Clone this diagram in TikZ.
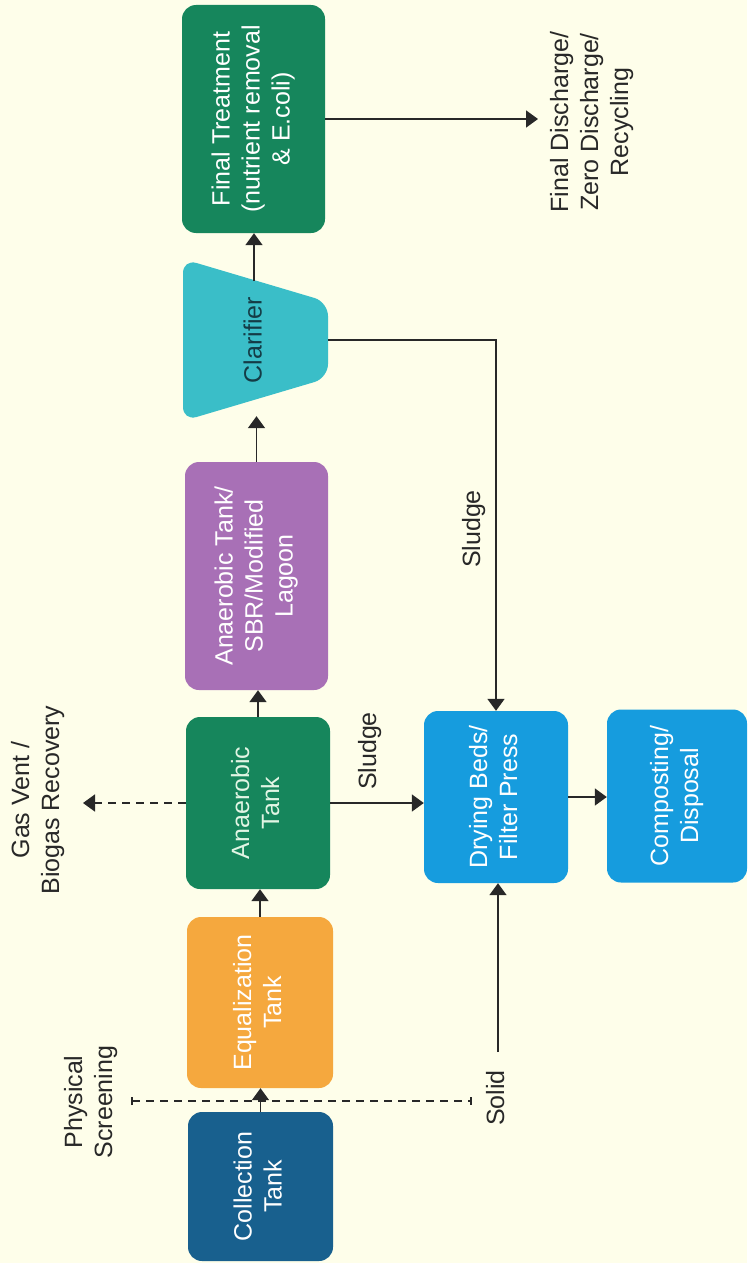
\documentclass[tikz,border=0pt]{standalone}
\usepackage{fontspec}
\setmainfont{Liberation Sans}
\usetikzlibrary{arrows.meta,calc}
\definecolor{bg}{RGB}{254,254,234}
\definecolor{cblue}{RGB}{24,96,142}
\definecolor{corange}{RGB}{245,168,62}
\definecolor{cgreen}{RGB}{22,134,92}
\definecolor{cpurple}{RGB}{168,112,182}
\definecolor{cteal}{RGB}{58,190,200}
\definecolor{csky}{RGB}{22,156,222}
\definecolor{ink}{RGB}{40,40,40}
\definecolor{clartext}{RGB}{20,60,70}
\definecolor{lightgreen}{RGB}{225,245,228}
\newcommand{\rt}[1]{\rotatebox{90}{\begin{tabular}{@{}c@{}}#1\end{tabular}}}
\begin{document}
\begin{tikzpicture}[x=1pt,y=-1pt,
  font=\fontsize{25}{30}\selectfont,
  box/.style={rectangle, rounded corners=14pt, inner sep=0pt, text=white},
  conn/.style={draw=ink, line width=1.7pt},
  arr/.style={conn, -{Triangle[width=17pt,length=12pt]}},
  dashline/.style={dash pattern=on 8pt off 6pt},
  lbl/.style={text=ink, inner sep=0pt},
]
\fill[bg] (0,0) rectangle (747,1263);
\useasboundingbox (0,0) rectangle (747,1263);

% boxes
\node[box, fill=cblue, minimum width=145pt, minimum height=149pt] (col) at (260.5,1186.5) {\rt{Collection\\Tank}};
\node[box, fill=corange, minimum width=146pt, minimum height=171pt] (equ) at (260,1002.5) {\rt{Equalization\\Tank}};
\node[box, fill=cgreen, minimum width=144pt, minimum height=172pt, text=lightgreen] (ana) at (258,803) {\rt{Anaerobic\\Tank}};
\node[box, fill=cpurple, minimum width=143pt, minimum height=228pt] (sbr) at (256.5,576) {\rt{Anaerobic Tank/\\SBR/Modified\\Lagoon}};
\fill[cteal, rounded corners=14pt] (183,259) -- (328,302) -- (328,378) -- (183,421) -- cycle;
\node[inner sep=0pt, minimum width=145pt, minimum height=162pt, text=clartext] (clar) at (255.5,340) {\rt{Clarifier}};
\node[box, fill=cgreen, minimum width=143pt, minimum height=228pt] (fin) at (253.5,119) {\rt{Final Treatment\\(nutrient removal\\\& E.coli)}};
\node[box, fill=csky, minimum width=144pt, minimum height=172pt] (dry) at (496,797) {\rt{Drying Beds/\\Filter Press}};
\node[box, fill=csky, minimum width=140pt, minimum height=173pt] (com) at (677,796) {\rt{Composting/\\Disposal}};

% labels
\node[lbl] (ps) at (91,1102) {\rt{Physical\\Screening}};
\node[lbl] (gas) at (38,800) {\rt{Gas Vent /\\Biogas Recovery}};
\node[lbl] (sl1) at (370,751) {\rt{Sludge}};
\node[lbl] (sl2) at (474,529) {\rt{Sludge}};
\node[lbl] (sol) at (498,1098) {\rt{Solid}};
\node[lbl] (out) at (592,122) {\rt{Final Discharge/\\Zero Discharge/\\Recycling}};

% helper coordinates
\coordinate (scrL) at (131,1101);
\coordinate (scrR) at (472,1101);
\coordinate (gastip) at (83,803);
\coordinate (clartop) at (254,281);
\coordinate (outtip) at (538,119);
\coordinate (solstart) at (498,1052);

% connectors
\draw[conn, dashline, {Bar[width=8pt]}-{Bar[width=8pt]}] (scrL) -- (scrR);
\draw[arr] (col.north) -- (col.north |- equ.south);
\draw[arr] (equ.north) -- (equ.north |- ana.south);
\draw[arr] (ana.north) -- (ana.north |- sbr.south);
\draw[arr] (sbr.north) -- ($(sbr.north |- clar.south)+(0,-5)$);
\draw[arr] (clartop) -- (clartop |- fin.south);
\draw[arr] (fin.east) -- (outtip);
\draw[arr, dashline] (ana.west) -- (gastip);
\draw[arr] (ana.east) -- (ana.east -| dry.west);
\draw[arr] (clar.east) -| (dry.north);
\draw[arr] (solstart) -- (solstart |- dry.south);
\draw[arr] (dry.east) -- (dry.east -| com.west);
\end{tikzpicture}
\end{document}
